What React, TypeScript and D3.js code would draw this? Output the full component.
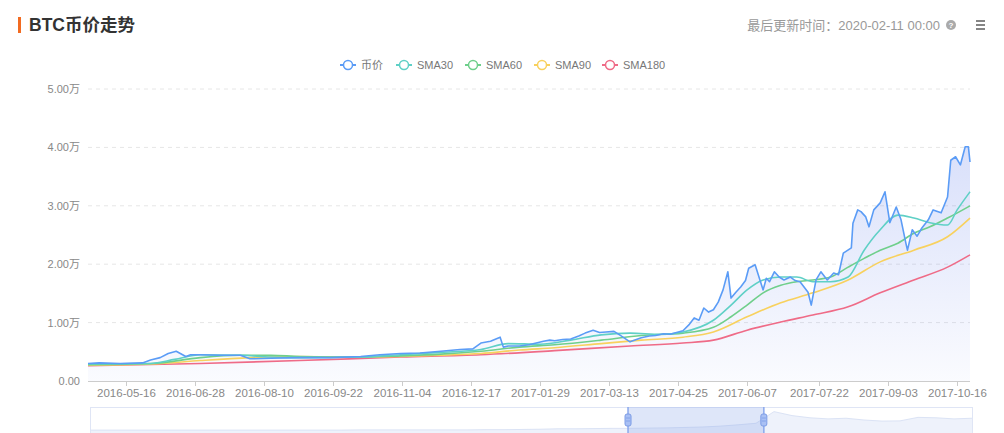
import React, { useEffect, useRef } from 'react';
import * as d3 from 'd3';

// ---------- data (values in 万 CNY) ----------
const priceDates = [
  '2016-04-22', '2016-04-29', '2016-05-12', '2016-05-26', '2016-05-31', '2016-06-06', '2016-06-11', '2016-06-16',
  '2016-06-18', '2016-06-22', '2016-06-25', '2016-07-01', '2016-07-13', '2016-07-26', '2016-08-01', '2016-08-14',
  '2016-09-01', '2016-09-20', '2016-10-09', '2016-10-21', '2016-11-03', '2016-11-15', '2016-11-28', '2016-12-10',
  '2016-12-18', '2016-12-23', '2016-12-29', '2017-01-04', '2017-01-06', '2017-01-09', '2017-01-16', '2017-01-22',
  '2017-01-31', '2017-02-04', '2017-02-07', '2017-02-12', '2017-02-17', '2017-02-22', '2017-02-26', '2017-03-03',
  '2017-03-07', '2017-03-11', '2017-03-16', '2017-03-20', '2017-03-26', '2017-04-02', '2017-04-07', '2017-04-11',
  '2017-04-16', '2017-04-20', '2017-04-24', '2017-04-28', '2017-05-02', '2017-05-05', '2017-05-08', '2017-05-11',
  '2017-05-14', '2017-05-17', '2017-05-20', '2017-05-23', '2017-05-26', '2017-05-28', '2017-05-31', '2017-06-03',
  '2017-06-06', '2017-06-08', '2017-06-12', '2017-06-15', '2017-06-17', '2017-06-19', '2017-06-21', '2017-06-24',
  '2017-06-27', '2017-06-30', '2017-07-04', '2017-07-07', '2017-07-10', '2017-07-15', '2017-07-17', '2017-07-20',
  '2017-07-23', '2017-07-27', '2017-07-31', '2017-08-03', '2017-08-06', '2017-08-11', '2017-08-12', '2017-08-15',
  '2017-08-17', '2017-08-20', '2017-08-22', '2017-08-25', '2017-08-29', '2017-09-01', '2017-09-04', '2017-09-08',
  '2017-09-11', '2017-09-14', '2017-09-15', '2017-09-18', '2017-09-21', '2017-09-24', '2017-09-28', '2017-10-01',
  '2017-10-06', '2017-10-10', '2017-10-12', '2017-10-15', '2017-10-18', '2017-10-21', '2017-10-23', '2017-10-24',
];
const priceValues = [
  0.30, 0.31, 0.30, 0.31, 0.36, 0.40, 0.47, 0.51,
  0.48, 0.42, 0.45, 0.45, 0.44, 0.44, 0.38, 0.39,
  0.40, 0.40, 0.42, 0.45, 0.47, 0.48, 0.51, 0.54,
  0.55, 0.65, 0.68, 0.75, 0.58, 0.60, 0.60, 0.62,
  0.68, 0.70, 0.69, 0.71, 0.72, 0.77, 0.82, 0.87,
  0.83, 0.84, 0.85, 0.78, 0.67, 0.74, 0.77, 0.78,
  0.81, 0.80, 0.83, 0.86, 0.97, 1.08, 1.04, 1.25,
  1.18, 1.22, 1.35, 1.56, 1.87, 1.42, 1.52, 1.61,
  1.72, 1.93, 1.99, 1.73, 1.56, 1.76, 1.70, 1.87,
  1.78, 1.73, 1.78, 1.72, 1.70, 1.52, 1.30, 1.73,
  1.87, 1.73, 1.85, 1.82, 2.19, 2.28, 2.70, 2.93,
  2.90, 2.81, 2.64, 2.93, 3.05, 3.24, 2.71, 2.98,
  2.76, 2.36, 2.24, 2.59, 2.48, 2.62, 2.76, 2.93,
  2.88, 3.15, 3.78, 3.84, 3.70, 4.01, 4.01, 3.75,
];

const sma30Dates = [
  '2016-04-22', '2016-05-31', '2016-06-15', '2016-07-01', '2016-07-26', '2016-08-14', '2016-09-01', '2016-10-09',
  '2016-11-03', '2016-11-28', '2016-12-23', '2017-01-09', '2017-01-29', '2017-02-17', '2017-03-08', '2017-03-26',
  '2017-04-14', '2017-04-28', '2017-05-17', '2017-05-28', '2017-06-07', '2017-06-17', '2017-06-28', '2017-07-08',
  '2017-07-18', '2017-07-29', '2017-08-09', '2017-08-19', '2017-08-29', '2017-09-09', '2017-09-19', '2017-09-29',
  '2017-10-10', '2017-10-16', '2017-10-24',
];
const sma30Values = [
  0.29, 0.30, 0.37, 0.45, 0.44, 0.41, 0.40, 0.41,
  0.45, 0.49, 0.54, 0.64, 0.63, 0.70, 0.79, 0.82,
  0.80, 0.84, 1.04, 1.30, 1.56, 1.73, 1.78, 1.78,
  1.70, 1.70, 1.78, 2.24, 2.59, 2.84, 2.79, 2.71,
  2.67, 2.93, 3.24,
];

const sma60Dates = [
  '2016-04-22', '2016-06-01', '2016-07-01', '2016-07-26', '2016-08-14', '2016-09-01', '2016-10-09', '2016-11-03',
  '2016-11-28', '2016-12-23', '2017-01-16', '2017-02-07', '2017-03-08', '2017-04-02', '2017-04-28', '2017-05-17',
  '2017-05-28', '2017-06-07', '2017-06-17', '2017-06-28', '2017-07-08', '2017-07-18', '2017-07-29', '2017-08-09',
  '2017-08-19', '2017-08-29', '2017-09-09', '2017-09-19', '2017-09-29', '2017-10-10', '2017-10-24',
];
const sma60Values = [
  0.28, 0.30, 0.40, 0.44, 0.44, 0.42, 0.41, 0.43,
  0.46, 0.51, 0.58, 0.62, 0.70, 0.78, 0.82, 0.92,
  1.10, 1.30, 1.51, 1.64, 1.70, 1.73, 1.78, 1.95,
  2.10, 2.24, 2.36, 2.53, 2.64, 2.79, 3.00,
];

const sma90Dates = [
  '2016-04-22', '2016-06-01', '2016-07-01', '2016-08-01', '2016-09-01', '2016-10-09', '2016-11-03', '2016-11-28',
  '2016-12-23', '2017-01-16', '2017-02-07', '2017-03-08', '2017-04-02', '2017-04-28', '2017-05-17', '2017-06-07',
  '2017-06-28', '2017-07-18', '2017-08-09', '2017-08-29', '2017-09-19', '2017-10-10', '2017-10-24',
];
const sma90Values = [
  0.27, 0.29, 0.35, 0.40, 0.42, 0.41, 0.42, 0.44,
  0.47, 0.53, 0.57, 0.64, 0.70, 0.75, 0.84, 1.10,
  1.34, 1.51, 1.73, 2.04, 2.24, 2.47, 2.79,
];

const sma180Dates = [
  '2016-04-22', '2016-07-01', '2016-09-01', '2016-11-03', '2016-12-23', '2017-02-07', '2017-03-26', '2017-04-28',
  '2017-05-17', '2017-06-07', '2017-06-28', '2017-07-18', '2017-08-09', '2017-08-29', '2017-09-19', '2017-10-10',
  '2017-10-24',
];
const sma180Values = [
  0.26, 0.30, 0.35, 0.41, 0.45, 0.52, 0.60, 0.65,
  0.70, 0.87, 1.01, 1.13, 1.27, 1.51, 1.73, 1.95,
  2.16,
];

const xTickLabels = [
  '2016-05-16', '2016-06-28', '2016-08-10', '2016-09-22', '2016-11-04', '2016-12-17', '2017-01-29',
  '2017-03-13', '2017-04-25', '2017-06-07', '2017-07-22', '2017-09-03', '2017-10-16',
];
const yTickValues = [0, 1, 2, 3, 4, 5];
const yTickLabels = ['0.00', '1.00万', '2.00万', '3.00万', '4.00万', '5.00万'];

const legendNames = ['币价', 'SMA30', 'SMA60', 'SMA90', 'SMA180'];
const seriesColors = ['#5b9cf6', '#5fd0c6', '#6fcf8b', '#f8d15e', '#ef6b87'];

// overview (slider) preview, relative values across full history
const sliderPreview = [
  0.04, 0.04, 0.04, 0.04, 0.04, 0.04, 0.04, 0.04, 0.04, 0.04,
  0.04, 0.04, 0.04, 0.04, 0.04, 0.05, 0.05, 0.05, 0.05, 0.05,
  0.05, 0.05, 0.06, 0.06, 0.07, 0.08, 0.10, 0.10, 0.11, 0.12,
  0.12, 0.13, 0.14, 0.16, 0.18, 0.22, 0.28, 0.35, 0.88, 0.70,
  0.60, 0.55, 0.58, 0.50, 0.45, 0.46, 0.62, 0.60, 0.55, 0.58,
];
const sliderWindow = [0.61, 0.764];

const FONT = "'Liberation Sans', Arial, 'Noto Sans CJK SC', sans-serif";

export default function App() {
  const ref = useRef<SVGSVGElement>(null);

  useEffect(() => {
    const svg = d3.select(ref.current!);
    svg.selectAll('*').remove();
    const parse = d3.timeParse('%Y-%m-%d');

    const left = 88, right = 970, top = 89, bottom = 381;
    const x = d3.scaleTime()
      .domain([parse('2016-04-22')!, parse('2017-10-24')!])
      .range([left, right]);
    const y = d3.scaleLinear().domain([0, 5]).range([bottom, top]);

    // title
    svg.append('rect').attr('x', 18).attr('y', 17).attr('width', 3).attr('height', 16).attr('fill', '#f26b21');
    svg.append('text').attr('x', 29).attr('y', 31).text('BTC币价走势')
      .attr('font-family', FONT).attr('font-size', 17.5).attr('font-weight', 'bold').attr('fill', '#333');

    svg.append('text').attr('x', 940).attr('y', 29.5).attr('text-anchor', 'end')
      .text('最后更新时间：2020-02-11 00:00')
      .attr('font-family', FONT).attr('font-size', 13).attr('fill', '#999');
    svg.append('circle').attr('cx', 951).attr('cy', 25).attr('r', 5).attr('fill', '#aaa');
    svg.append('text').attr('x', 951).attr('y', 28).attr('text-anchor', 'middle').text('?')
      .attr('font-family', FONT).attr('font-size', 8).attr('font-weight', 'bold').attr('fill', '#fff');
    [21, 25, 29].forEach((yy) => {
      svg.append('line').attr('x1', 976).attr('x2', 985).attr('y1', yy).attr('y2', yy)
        .attr('stroke', '#666').attr('stroke-width', 1.6);
    });

    // legend
    const legendIconX = [340, 396, 465, 534, 602];
    legendNames.forEach((name, i) => {
      const g = svg.append('g').attr('transform', `translate(${legendIconX[i]},65)`);
      g.append('line').attr('x1', 0).attr('x2', 16).attr('y1', 0).attr('y2', 0)
        .attr('stroke', seriesColors[i]).attr('stroke-width', 2);
      g.append('circle').attr('cx', 8).attr('cy', 0).attr('r', 4.5)
        .attr('fill', '#fff').attr('stroke', seriesColors[i]).attr('stroke-width', 1.5);
      g.append('text').attr('x', 21).attr('y', 4).text(name)
        .attr('font-family', FONT).attr('font-size', 11).attr('fill', '#777');
    });

    // grid + y labels
    yTickValues.forEach((v, i) => {
      if (v > 0) {
        svg.append('line').attr('x1', left).attr('x2', right).attr('y1', y(v)).attr('y2', y(v))
          .attr('stroke', '#e6e6e6').attr('stroke-dasharray', '4,4');
      }
      svg.append('text').attr('x', 80).attr('y', y(v) + 4).attr('text-anchor', 'end')
        .text(yTickLabels[i]).attr('font-family', FONT).attr('font-size', 11).attr('fill', '#888');
    });

    // gradient area
    const defs = svg.append('defs');
    const grad = defs.append('linearGradient').attr('id', 'areaGrad')
      .attr('gradientUnits', 'userSpaceOnUse').attr('x1', 0).attr('x2', 0).attr('y1', y(4.2)).attr('y2', bottom);
    grad.append('stop').attr('offset', '0%').attr('stop-color', 'rgb(90,120,235)').attr('stop-opacity', 0.24);
    grad.append('stop').attr('offset', '100%').attr('stop-color', 'rgb(90,120,235)').attr('stop-opacity', 0.03);

    const price = priceDates.map((d, i) => ({ d: parse(d)!, v: priceValues[i] }));
    const area = d3.area<{ d: Date; v: number }>().x((p) => x(p.d)).y0(bottom).y1((p) => y(p.v));
    svg.append('path').attr('d', area(price)!).attr('fill', 'url(#areaGrad)');

    // x axis
    svg.append('line').attr('x1', left).attr('x2', right).attr('y1', bottom + 0.5).attr('y2', bottom + 0.5)
      .attr('stroke', '#ccc');
    xTickLabels.forEach((t) => {
      const xx = Math.round(x(parse(t)!)) + 0.5;
      svg.append('line').attr('x1', xx).attr('x2', xx).attr('y1', bottom).attr('y2', bottom + 5).attr('stroke', '#ccc');
      svg.append('text').attr('x', xx).attr('y', bottom + 16).attr('text-anchor', 'middle').text(t)
        .attr('font-family', FONT).attr('font-size', 11.5).attr('fill', '#888');
    });

    // lines
    const seriesList = [
      { dates: sma180Dates, values: sma180Values, color: seriesColors[4], curve: d3.curveMonotoneX },
      { dates: sma90Dates, values: sma90Values, color: seriesColors[3], curve: d3.curveMonotoneX },
      { dates: sma60Dates, values: sma60Values, color: seriesColors[2], curve: d3.curveMonotoneX },
      { dates: sma30Dates, values: sma30Values, color: seriesColors[1], curve: d3.curveMonotoneX },
      { dates: priceDates, values: priceValues, color: seriesColors[0], curve: d3.curveLinear },
    ];
    seriesList.forEach((s) => {
      const pts = s.dates.map((d, i) => ({ d: parse(d)!, v: s.values[i] }));
      const line = d3.line<{ d: Date; v: number }>().x((p) => x(p.d)).y((p) => y(p.v)).curve(s.curve);
      svg.append('path').attr('d', line(pts)!).attr('fill', 'none')
        .attr('stroke', s.color).attr('stroke-width', 1.6).attr('stroke-linejoin', 'round');
    });

    // slider (data zoom)
    const sl = 90, sr = 972, st = 407, sb = 437;
    const sx = d3.scaleLinear().domain([0, sliderPreview.length - 1]).range([sl, sr]);
    const sy = d3.scaleLinear().domain([0, 1]).range([431, 409]);
    const sArea = d3.area<number>().x((_, i) => sx(i)).y0(sb).y1((v) => sy(v));
    svg.append('path').attr('d', sArea(sliderPreview)!).attr('fill', '#eef2fb');
    const sLine = d3.line<number>().x((_, i) => sx(i)).y((v) => sy(v));
    svg.append('path').attr('d', sLine(sliderPreview)!).attr('fill', 'none').attr('stroke', '#dbe3f5');
    svg.append('rect').attr('x', sl + 0.5).attr('y', st + 0.5).attr('width', sr - sl).attr('height', sb - st)
      .attr('fill', 'none').attr('stroke', '#dfe5f5');
    const wx0 = sl + sliderWindow[0] * (sr - sl), wx1 = sl + sliderWindow[1] * (sr - sl);
    svg.append('rect').attr('x', wx0).attr('y', st).attr('width', wx1 - wx0).attr('height', sb - st)
      .attr('fill', 'rgba(135,165,235,0.28)');
    [wx0, wx1].forEach((hx) => {
      svg.append('line').attr('x1', hx).attr('x2', hx).attr('y1', st).attr('y2', sb)
        .attr('stroke', '#8aa8ec').attr('stroke-width', 1.5);
      svg.append('rect').attr('x', hx - 3).attr('y', 414).attr('width', 6).attr('height', 12).attr('rx', 2)
        .attr('fill', '#a9c0f4').attr('stroke', '#7c9ce6');
      [418, 421].forEach((ly) => {
        svg.append('line').attr('x1', hx - 2).attr('x2', hx + 2).attr('y1', ly).attr('y2', ly)
          .attr('stroke', '#7c9ce6').attr('stroke-width', 0.8);
      });
    });
  }, []);

  return (
    <svg ref={ref} width={1004} height={433}
      style={{ position: 'absolute', left: 0, top: 0, background: '#fff', display: 'block' }} />
  );
}
